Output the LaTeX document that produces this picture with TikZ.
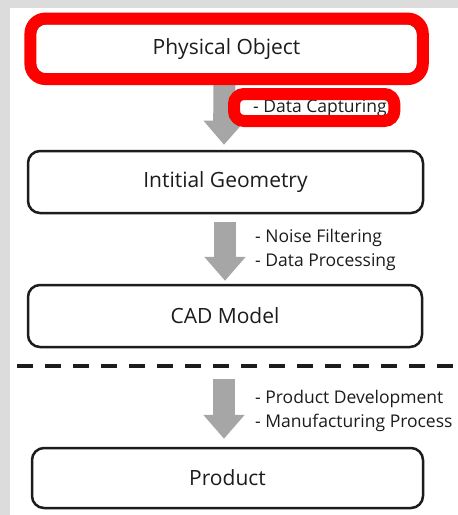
\documentclass[tikz,border=0pt]{standalone}
\usepackage{fontspec}
\setmainfont{Open Sans}
\usetikzlibrary{arrows.meta,positioning}

\definecolor{bggray}{HTML}{DCDCDC}
\definecolor{arrowgray}{HTML}{A6A6A6}
\definecolor{inkgray}{HTML}{1C1C1C}
\definecolor{hired}{HTML}{FF0000}

\tikzset{
  stage/.style={draw=inkgray, line width=2.5pt, rounded corners=12pt, minimum width=395pt,
    minimum height=62pt, inner sep=0pt, text=inkgray, font=\fontsize{21}{24}\selectfont},
  flow/.style={draw=arrowgray, line width=22pt, -{Triangle[width=40pt,length=24pt,fill=arrowgray]}},
  note/.style={anchor=west, align=left, inner sep=0pt, text=inkgray, font=\fontsize{17.5}{24}\selectfont},
  hilite/.style={draw=hired, line width=12pt, rounded corners=#1},
  hilite/.default=14pt,
  divider/.style={draw=inkgray, line width=4pt, dash pattern=on 16pt off 12pt}
}

\begin{document}
\begin{tikzpicture}[x=1pt,y=-1pt]
    % background with grey frame at left and top
    \fill[bggray] (0,0) rectangle (458,515);
    \fill[white] (10,8) rectangle (458,515);
    \useasboundingbox (0,0) rectangle (458,515);

    % stages
    \node[stage, minimum width=384pt, minimum height=52pt] (phys) at (226.5,49) {Physical Object};
    \node[stage] (geom) at (225.5,182) {Intitial Geometry};
    \node[stage, minimum width=394pt] (cad) at (225,316) {CAD Model};
    \node[stage, minimum width=391pt, minimum height=60pt] (prod) at (227.5,478) {Product};

    % dashed separator
    \draw[divider] (17,366) -- (458,366);

    % flow arrows
    \draw[flow] ([xshift=-2pt,yshift=-5pt]phys.south) -- ([xshift=-1.5pt,yshift=5pt]geom.north);
    \draw[flow] ([xshift=-0.5pt,yshift=-8pt]geom.south) -- ([yshift=3pt]cad.north);
    \coordinate (devtop) at (224,379);
    \draw[flow] (devtop) -- ([xshift=-3.5pt,yshift=8pt]prod.north);

    % step notes
    \node[note] (capt) at (253,108) {- Data Capturing};
    \node[note] (filt) at (255,250) {- Noise Filtering\\- Data Processing};
    \node[note] (devel) at (255,410.5) {- Product Development\\- Manufacturing Process};

    % red highlights
    \draw[hilite=15pt] ([shift={(-2.8,-3.2)}]phys.north west) rectangle ([shift={(3,2.8)}]phys.south east);
    \draw[hilite=10pt] ([shift={(-19,-14)}]capt.west) rectangle ([shift={(7.5,13)}]capt.east);
\end{tikzpicture}
\end{document}
